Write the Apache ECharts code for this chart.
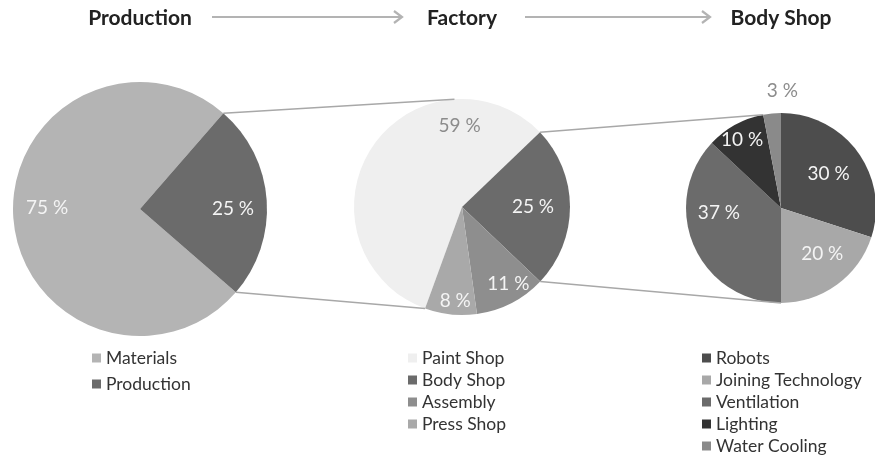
<!DOCTYPE html>
<html><head><meta charset="utf-8">
<script src="https://cdn.jsdelivr.net/npm/echarts@6/dist/echarts.min.js"></script>
<style>html,body{margin:0;padding:0;background:#fff}#c{width:875px;height:456px}</style>
</head><body><div id="c"></div>
<script>
// ---- data ----
const stageTitles = ['Production', 'Factory', 'Body Shop'];
const productionNames = ['Materials', 'Production'];
const productionValues = [75, 25];
const factoryNames = ['Paint Shop', 'Body Shop', 'Assembly', 'Press Shop'];
const factoryValues = [59, 25, 11, 8];
const bodyShopNames = ['Robots', 'Joining Technology', 'Ventilation', 'Lighting', 'Water Cooling'];
const bodyShopValues = [30, 20, 37, 10, 3];

// ---- styles / layout ----
const FONT = 'Lato, "Open Sans", sans-serif';
const pies = [
  { names: productionNames, values: productionValues, center: [140, 209], r: 127, start: -41, r0f: 0.42,
    colors: ['#b4b4b4', '#6b6b6b'], labelColors: ['#f4f4f4', '#f4f4f4'],
    offsets: [[0, -8], [0, 6]], legendLeft: 92, legendGap: 8 },
  { names: factoryNames, values: factoryValues, center: [462, 207], r: 108, start: 250, r0f: 0.5,
    colors: ['#efefef', '#6b6b6b', '#8e8e8e', '#a9a9a9'], labelColors: ['#8c8c8c', '#f4f4f4', '#f4f4f4', '#f4f4f4'],
    offsets: [[68, -35], [-13, 0], [8, 2], [2, 10]], legendLeft: 408, legendGap: 4 },
  { names: bodyShopNames, values: bodyShopValues, center: [781, 208], r: 95, start: 90, r0f: 0.2,
    colors: ['#4d4d4d', '#a8a8a8', '#6b6b6b', '#333333', '#8a8a8a'], labelColors: ['#f4f4f4', '#f4f4f4', '#f4f4f4', '#f4f4f4', '#8c8c8c'],
    offsets: [[-1, 1], [6, -3], [-7, -19], [-10, -16], [7, -57]], legendLeft: 702, legendGap: 4 }
];

function sum(a) { return a.reduce((s, v) => s + v, 0); }
// angle (deg) of the boundary after the first k slices
function boundary(p, k) { return p.start - 360 * sum(p.values.slice(0, k)) / sum(p.values); }
function pt(p, deg) { const a = deg * Math.PI / 180; return [p.center[0] + p.r * Math.cos(a), p.center[1] - p.r * Math.sin(a)]; }

const series = [];
const legends = [];
pies.forEach((p, i) => {
  series.push({
    type: 'pie', center: p.center, radius: [0, p.r], startAngle: p.start, clockwise: true,
    silent: true, animation: false, label: { show: false }, labelLine: { show: false },
    itemStyle: { borderWidth: 0 },
    data: p.names.map((n, j) => ({ name: n, value: p.values[j], itemStyle: { color: p.colors[j] } }))
  });
});
pies.forEach((p, i) => {
  series.push({
    type: 'pie', center: p.center, radius: [p.r * p.r0f, p.r], startAngle: p.start, clockwise: true,
    silent: true, animation: false, z: 5, avoidLabelOverlap: false, labelLine: { show: false },
    itemStyle: { color: 'rgba(0,0,0,0)', borderWidth: 0 },
    label: { show: true, position: 'inside', formatter: '{c} %', fontFamily: FONT, fontSize: 19 },
    data: p.names.map((n, j) => ({ name: n, value: p.values[j],
      itemStyle: { color: 'rgba(0,0,0,0)' },
      label: { color: p.labelColors[j], offset: p.offsets[j] } }))
  });
  legends.push({
    orient: 'vertical', left: p.legendLeft, top: 349, height: 140, padding: 0, data: p.names, icon: 'rect',
    itemWidth: 9, itemHeight: 9, itemGap: p.legendGap, selectedMode: false,
    itemStyle: { borderWidth: 0 },
    textStyle: { fontFamily: FONT, fontSize: 17.5, color: '#333', lineHeight: 17, padding: [0, 0, 0, 0] }
  });
});

// ---- decoration: titles, arrows, connectors ----
const graphic = [];
pies.forEach((p, i) => {
  graphic.push({ type: 'text', x: p.center[0], y: 18,
    style: { text: stageTitles[i], font: 'bold 21px ' + FONT, fill: '#222', align: 'center', verticalAlign: 'middle' } });
});
const arrowStyle = { stroke: '#b3b3b3', lineWidth: 2.2 };
[[212, 402], [525, 710]].forEach(([x1, x2]) => {
  graphic.push({ type: 'line', shape: { x1: x1, y1: 17, x2: x2, y2: 17 }, style: arrowStyle });
  graphic.push({ type: 'polyline', shape: { points: [[x2 - 8, 11], [x2, 17], [x2 - 8, 23]] }, style: Object.assign({ fill: null }, arrowStyle) });
});
const connStyle = { stroke: '#a8a8a8', lineWidth: 1.5 };
function conn(a, b) { graphic.push({ type: 'line', z: 10, shape: { x1: a[0], y1: a[1], x2: b[0], y2: b[1] }, style: connStyle }); }
// Production slice edges -> factory pie
conn(pt(pies[0], boundary(pies[0], 1)), pt(pies[1], 94));
conn(pt(pies[0], boundary(pies[0], 2)), pt(pies[1], boundary(pies[1], 4)));
// Body Shop slice edges -> body shop pie
conn(pt(pies[1], boundary(pies[1], 1)), pt(pies[2], boundary(pies[2], 4)));
conn(pt(pies[1], boundary(pies[1], 2)), pt(pies[2], boundary(pies[2], 2)));

const chart = echarts.init(document.getElementById('c'), null, { renderer: 'canvas' });
chart.setOption({ backgroundColor: '#fff', animation: false, legend: legends, series: series, graphic: graphic });
</script></body></html>
